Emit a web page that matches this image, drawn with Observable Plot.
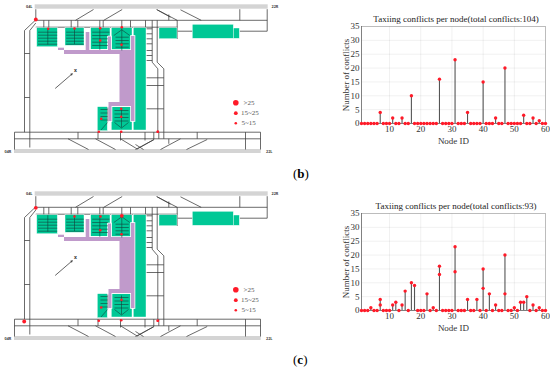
<!DOCTYPE html>
<html><head><meta charset="utf-8">
<script src="https://cdn.jsdelivr.net/npm/d3@7"></script>
<script src="https://cdn.jsdelivr.net/npm/@observablehq/plot@0.6"></script>
<style>
html,body{margin:0;padding:0;background:#fff}
#page{position:relative;width:550px;height:370px;overflow:hidden;font-family:"Liberation Serif",serif}
.lab{position:absolute;font-size:13px;color:#000;font-family:"Liberation Serif",serif;line-height:14px}
</style></head><body><div id="page"></div>
<script>
// ---- conflict charts
const nodeIds = d3.range(1, 61);
const conflictsB = {7:4,11:2,14:2,17:10,26:16,31:23,35:4,40:15,44:2,47:20,53:3,56:2,58:1};
const conflictsC = {4:1,7:4,11:2,12:3,14:2,15:7,17:10,18:9,22:6,24:1,26:16,31:23,35:4,38:4,40:15,42:6,44:2,47:20,50:1,52:3,53:3,54:5,56:2,58:1};
const conflictsCInner = {7:2,26:13,31:14,40:8,47:6};
const titleB = "Taxiing conflicts per node(total conflicts:104)";
const titleC = "Taxiing conflicts per node(total conflicts:93)";
const yTicks = [0,5,10,15,20,25,30,35];
const xTicks = [10,20,30,40,50,60];

// ---- airfield map, in map units
const runways = [[34.7,4.3,267.7,8.7],[14,149,260.7,153]];
const greenBlocks = [[36.7,27.7,57.3,46.7],[65,27.7,84,45.3],[90.7,27.7,110,49.3],[111.3,27.7,132,50.7],[133.3,27.7,146,130],
  [97.3,106.7,107.3,130.7],[111.3,106.7,132,130],[159,27.7,177,38.7],[192.3,24.3,233.3,38.3],[233.3,28,239.3,38.3]];
const purpleBlocks = [[58,47.7,64,50],[64,50,131,54],[85.7,32,89.3,50],[108,36.5,111,50],[119.5,54,134,102],[108.5,102,134,106],[131,36,134.5,121],[108.5,106,111.5,121]];
const taxiways = [
 [35.3,8.7,35.3,19.3],[35.3,19.3,24,30],[24,30,24,131.7],[35.3,22.5,29.3,30],[29.3,30,29.3,147],
 [35.3,19.8,266.7,19.8],[35.3,26.7,177,26.7],[24,53,29.3,53],[24,97,29.3,97],
 [75,19.8,93,9],[103.3,19.8,121.7,9],[156,9,170,16.7],[156.7,9.3,176.7,19.8],[180,9.3,200.7,19.8],
 [176.7,19.8,176.7,38.5],[177,30.7,192.3,30.7],[239.3,30.7,266.7,30.7],[266.7,8.7,266.7,30.7],[239.3,8.7,239.3,19.8],[168.3,14,168.3,19.8],
 [43.3,19.8,43.3,27.7],[48.3,19.8,48.3,27.7],[70.7,19.8,70.7,27.7],[77.3,19.8,77.3,27.7],[99.3,19.8,99.3,27.7],[102.7,19.8,102.7,27.7],[121.3,19.8,121.3,27.7],[130,19.8,130,27.7],
 [145,19.8,145,28.3],[151.7,19.8,151.7,61.7],[156.7,19.8,156.7,61.7],[151.7,61.7,157.3,68.3],[157.3,68.3,157.3,131.7],[156.7,61.7,163.3,68.3],[163.3,68.3,163.3,131.7],
 [146,28.3,151.7,28.3],[146,33.3,151.7,33.3],[146,38.3,151.7,38.3],[146,43.3,151.7,43.3],[146,50,151.7,50],[146,55,151.7,55],[146,60,151.7,60],
 [146,77.3,163.3,77.3],[146,85,163.3,85],[146,108.3,163.3,108.3],
 [14,131.7,260,131.7],[14,138.3,260,138.3],[14,131.7,14,149],[260,131.7,260,149],[245,131.7,245,149],
 [77.5,131.7,77.5,138.3],[144.5,131.7,144.5,140],[153.3,131.7,153.3,139],[158.3,131.7,158.3,138.3],[163.3,131.7,163.3,138.3],[120,131.7,120,140],[97.5,131.7,97.5,138.3],
 [67.5,138.3,88,149],[95,138.3,115,149],[120,138.3,136.7,148.5],[136.7,148.5,153.3,139],[135,144,143,149],[135,149,153.3,139.3],[160,149,180,138.3],[186,149,206.7,139],[168.3,138.3,168.3,143.3],[196.7,131.7,196.7,138.3]
];
const stands = [
 [47.3,27.7,47.3,44],[37.5,31.7,56.7,31.7],[37.5,34.7,56.7,34.7],[37.5,37.7,56.7,37.7],[37.5,40.7,56.7,40.7],[37.5,43.7,56.7,43.7],
 [74,27.7,74,43.5],[65.7,31.7,83.3,31.7],[65.7,34.7,83.3,34.7],[65.7,37.7,83.3,37.7],[65.7,40.7,83.3,40.7],[65.7,43.7,83.3,43.7],
 [99.3,27.7,99.3,49.3],[91.7,31.7,109,31.7],[91.7,35,107.3,35],[91.7,38.3,107.3,38.3],[91.7,41.7,107.3,41.7],[91.7,45,107.3,45],
 [121.3,27.7,121.3,50],[113.3,35,121.3,29.3],[121.3,29.3,129.3,35],[115,36.7,128.3,36.7],[115,40,128.3,40],[115,43.3,128.3,43.3],[115,46.7,128.3,46.7],
 [107.3,107,107.3,121],[100,109,107,109],[100,112.5,107,112.5],[100,116,107,116],[100,119.5,107,119.5],[107,122,100.5,129.5],
 [121,108,121,127],[114,110,128,110],[114,113.5,128,113.5],[114,117,128,117],[114,120.5,128,120.5],[114,122,121,127.5],[121,127.5,128,122]
];
const nodeBX = [35.3,47.7,74,99.7,121.3,99.7,121,120.7,120.7,100.7,98.3,120.7,157.3,157.3];
const nodeBY = [19,28.3,28,27.7,26.7,40,44.3,108.3,116.3,118.3,131.3,131.3,131.3,131.3];
const nodesB = [20,10,10,10,10,10,10,10,10,10,10,10,10,10];
const nodeCX = [35.3,74,100,121.3,99.7,121,121,100.7,23.7,98.3,120.7,157.3,157.3];
const nodeCY = [20.3,29,29,28.3,42.7,46.7,112.3,120,134,133.3,132.7,133.3,133.3];
const nodesC = [20,10,10,20,10,10,10,10,20,10,10,10,10];
const arrowFrom = [55,87.7], arrowTo = [71.7,73.3];
const legendConflicts = [30,20,10];
const legendTexts = [">25","15~25","5~15"];
const legendX = 235.3, legendY = [102.3,112.7,122.7], legendTextX = [243,240.5,241];
const runwayLabels = [["04L",25.5,6.5],["22R",271,6.5],["04R",4,151],["22L",265.5,151]];

const green="#00c896", purple="#c09acb", red="#ff1a28", ink="#3a3a3a";

function seg(list,opts){
  return Plot.link(list,{x1:d=>d[0],y1:d=>d[1],x2:d=>d[2],y2:d=>d[3],...opts});
}
function rects(list,opts){
  return Plot.rect(list,{x1:d=>d[0],y1:d=>d[1],x2:d=>d[2],y2:d=>d[3],...opts});
}
function drawMap(xs,ys,vals,top){
  const nodes = xs.map((x,i)=>({x,y:ys[i],c:vals[i]}));
  const legend = legendConflicts.map((c,i)=>({c,y:legendY[i],t:legendTexts[i],tx:legendTextX[i]}));
  const svg = Plot.plot({
    width:300,height:186,margin:0,
    x:{domain:[0,300],range:[0,300],axis:null},
    y:{domain:[0,186],range:[0,186],axis:null},
    r:{type:"threshold",domain:[15,25],range:[1.3,1.9,2.8]},
    style:{background:"transparent"},
    marks:[
      rects(runways,{fill:"#d4d4d4"}),
      seg(taxiways,{stroke:ink,strokeWidth:0.75}),
      rects(greenBlocks,{fill:green,stroke:"#fff",strokeWidth:0.4}),
      rects(purpleBlocks,{fill:"#fff",stroke:"#fff",strokeWidth:1.6}),
      rects(purpleBlocks,{fill:purple}),
      seg(stands,{stroke:"#12403a",strokeWidth:0.6}),
      Plot.arrow([0],{x1:()=>arrowFrom[0],y1:()=>arrowFrom[1],x2:()=>arrowTo[0],y2:()=>arrowTo[1],stroke:"#222",strokeWidth:0.7,headLength:3,bend:0}),
      Plot.text(["x"],{x:()=>75,y:()=>69.5,fontSize:5,fontWeight:"bold",fill:"#333"}),
      Plot.text(runwayLabels,{x:d=>d[1],y:d=>d[2],text:d=>d[0],fontSize:3.8,fontWeight:"bold",fill:"#444",textAnchor:"start"}),
      Plot.dot(nodes,{x:"x",y:"y",r:"c",fill:red}),
      Plot.dot(legend,{x:()=>legendX,y:"y",r:"c",fill:red}),
      Plot.text(legend,{x:"tx",y:"y",text:"t",fontSize:7,fill:"#555",textAnchor:"start",fontFamily:"Liberation Serif"})
    ]
  });
  svg.style.position="absolute";svg.style.left="0";svg.style.top=top+"px";
  return svg;
}
function drawChart(title,main,inner,top){
  const rows = nodeIds.map(n=>({node:n,v:main[n]||0}));
  const innerRows = Object.entries(inner).map(([n,v])=>({node:+n,v}));
  const svg = Plot.plot({
    width:220,height:150,marginLeft:31,marginRight:5,marginTop:26,marginBottom:27,
    x:{domain:[1,60],ticks:xTicks},
    y:{domain:[0,35],ticks:yTicks},
    style:{fontFamily:"Liberation Serif",background:"transparent"},
    marks:[
      Plot.gridX(xTicks,{stroke:"#000",strokeOpacity:0.1,strokeWidth:0.6}),
      Plot.gridY(yTicks,{stroke:"#000",strokeOpacity:0.1,strokeWidth:0.6}),
      Plot.frame({stroke:"#999",strokeWidth:0.6}),
      Plot.ruleX([1],{stroke:"#555",strokeWidth:0.6}),
      Plot.ruleY([0],{stroke:"#555",strokeWidth:0.6}),
      Plot.axisX({ticks:xTicks,tickSize:0,tickPadding:2,fontSize:9,color:"#333",label:"Node ID",labelAnchor:"center",labelArrow:"none",labelOffset:20}),
      Plot.axisY({ticks:yTicks,tickSize:0,tickPadding:2,fontSize:9,color:"#333",label:"Number of conflicts",labelAnchor:"center",labelArrow:"none",labelOffset:19}),
      Plot.ruleX(rows.filter(d=>d.v>0),{x:"node",y1:0,y2:"v",stroke:"#555",strokeWidth:1.1}),
      Plot.dot(rows,{x:"node",y:"v",r:1.7,fill:red}),
      Plot.dot(innerRows,{x:"node",y:"v",r:1.7,fill:red}),
      Plot.text([title],{frameAnchor:"top",dy:-11,dx:2.5,fontSize:9,fill:"#222"})
    ]
  });
  svg.style.position="absolute";svg.style.left="330px";svg.style.top=top+"px";
  return svg;
}
const page=document.getElementById("page");
page.append(drawMap(nodeBX,nodeBY,nodesB,0));
page.append(drawMap(nodeCX,nodeCY,nodesC,186.7));
page.append(drawChart(titleB,conflictsB,{},0));
page.append(drawChart(titleC,conflictsC,conflictsCInner,187));
[["b",293,167],["c",293,353]].forEach(([b,x,y])=>{
  const d=document.createElement("div");d.className="lab";d.style.left=x+"px";d.style.top=y+"px";
  d.innerHTML="(<b>"+b+"</b>)";page.append(d);
});
</script></body></html>
